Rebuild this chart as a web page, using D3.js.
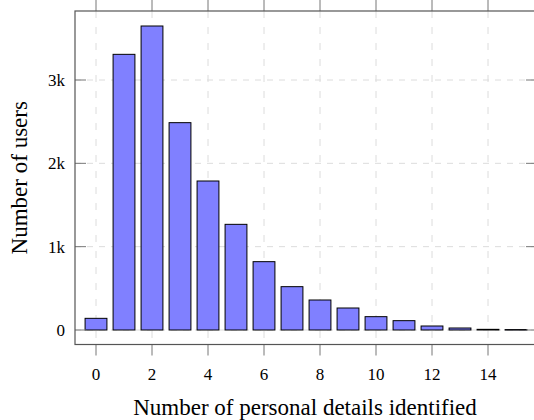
<!DOCTYPE html>
<html>
<head>
<meta charset="utf-8">
<script src="https://cdn.jsdelivr.net/npm/d3@7"></script>
<style>
  html, body { margin: 0; padding: 0; background: #fff; }
  svg { display: block; }
  text { font-family: "Liberation Serif", "DejaVu Serif", serif; fill: #000; }
</style>
</head>
<body>
<div id="chart"></div>
<script>
const categories = [0, 1, 2, 3, 4, 5, 6, 7, 8, 9, 10, 11, 12, 13, 14, 15];
const users = [140, 3308, 3648, 2488, 1788, 1268, 820, 520, 360, 264, 160, 112, 48, 24, 8, 5];
const xTicks = [0, 2, 4, 6, 8, 10, 12, 14];
const yTicks = [0, 1000, 2000, 3000];
const yTickLabels = ["0", "1k", "2k", "3k"];
const xLabel = "Number of personal details identified";
const yLabel = "Number of users";

(function () {
const W = 534, H = 420;
const pL = 75, pR = 537, pT = 11, pB = 344.5;

const svg = d3.select("#chart").append("svg").attr("width", W).attr("height", H);

const x = d3.scaleLinear().domain([-0.75, 15.75]).range([pL, pR]);
const y = d3.scaleLinear().domain([-174, 3828]).range([pB, pT]);
const barW = x(0.78) - x(0);

// grid
const grid = svg.append("g");
grid.selectAll("line.v").data(xTicks).join("line")
  .attr("x1", d => x(d)).attr("x2", d => x(d))
  .attr("y1", pT).attr("y2", pB)
  .attr("stroke", "#dcdcdc").attr("stroke-width", 1).attr("stroke-dasharray", "7,9");
grid.selectAll("line.h").data(yTicks).join("line")
  .attr("x1", pL).attr("x2", pR)
  .attr("y1", d => y(d)).attr("y2", d => y(d))
  .attr("stroke", "#dcdcdc").attr("stroke-width", 1).attr("stroke-dasharray", "6,6");

// bars
svg.append("g").selectAll("rect").data(categories).join("rect")
  .attr("x", (d) => x(d) - barW / 2)
  .attr("width", barW)
  .attr("y", (d, i) => y(users[i]))
  .attr("height", (d, i) => Math.max(0.5, y(0) - y(users[i])))
  .attr("fill", "#8080ff")
  .attr("stroke", "#000")
  .attr("stroke-width", 1);

// y axis ticks (inward both sides)
const tk = svg.append("g").attr("stroke", "#777").attr("stroke-width", 1);
yTicks.forEach(v => {
  tk.append("line").attr("x1", pL).attr("x2", pL + 11).attr("y1", y(v)).attr("y2", y(v));
  tk.append("line").attr("x1", pR - 11).attr("x2", pR).attr("y1", y(v)).attr("y2", y(v));
});
// x axis ticks (outward top and bottom)
xTicks.forEach(v => {
  tk.append("line").attr("x1", x(v)).attr("x2", x(v)).attr("y1", pB).attr("y2", pB + 11);
  tk.append("line").attr("x1", x(v)).attr("x2", x(v)).attr("y1", pT - 11).attr("y2", pT);
});

// frame
svg.append("rect").attr("x", pL).attr("y", pT)
  .attr("width", pR - pL).attr("height", pB - pT)
  .attr("fill", "none").attr("stroke", "#555").attr("stroke-width", 1.2);

// tick labels
svg.append("g").selectAll("text").data(xTicks).join("text")
  .attr("x", d => x(d)).attr("y", 380)
  .attr("text-anchor", "middle").attr("font-size", 17)
  .text(d => d);
svg.append("g").selectAll("text").data(yTicks).join("text")
  .attr("x", 65).attr("y", d => y(d) + 6)
  .attr("text-anchor", "end").attr("font-size", 17)
  .text((d, i) => yTickLabels[i]);

// axis labels
svg.append("text").attr("x", 305).attr("y", 415)
  .attr("text-anchor", "middle").attr("font-size", 23).text(xLabel);
svg.append("text").attr("transform", `translate(27,${(pT + pB) / 2}) rotate(-90)`)
  .attr("text-anchor", "middle").attr("font-size", 23).text(yLabel);
})();
</script>
</body>
</html>
